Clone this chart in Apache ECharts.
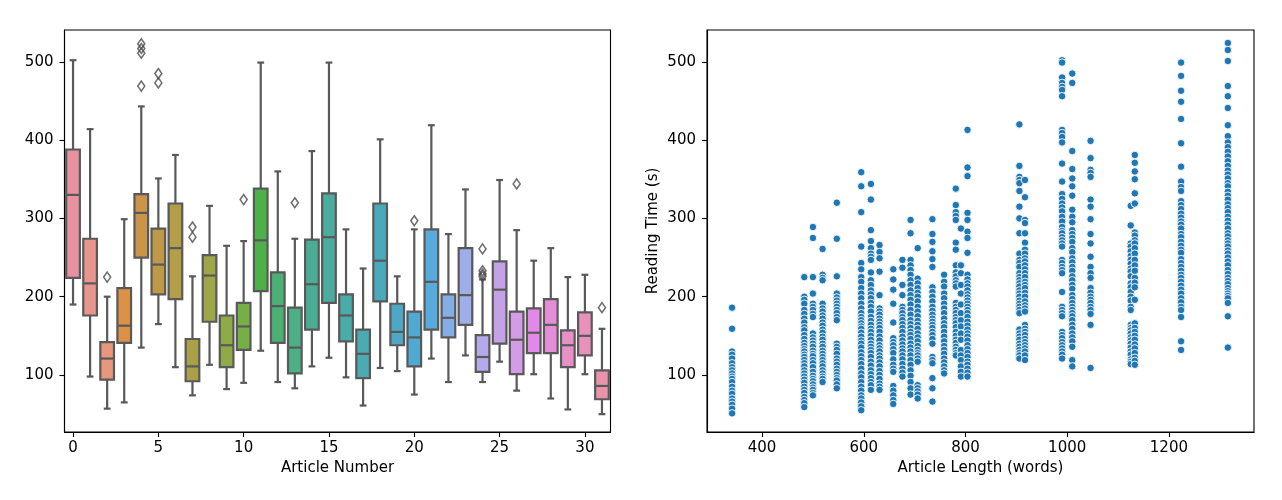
<!DOCTYPE html>
<html>
<head>
<meta charset="utf-8">
<script src="https://cdn.jsdelivr.net/npm/echarts@6/dist/echarts.min.js"></script>
<style>
html,body{margin:0;padding:0;background:#fff;}
#chart{width:1282px;height:500px;}
</style>
</head>
<body>
<div id="chart"></div>
<script>
// ---- Left: box plot per article ----
const articles = [0,1,2,3,4,5,6,7,8,9,10,11,12,13,14,15,16,17,18,19,20,21,22,23,24,25,26,27,28,29,30,31];
const boxMin    = [190, 98, 57, 65,135,165,110, 74,113, 82, 90,131, 91, 83,111,122, 97, 61,109,105, 75,121, 91,125, 91,117, 80,101, 70, 56,101, 50];
const boxQ1     = [224,176, 94,141,250,203,197, 92,168,110,132,207,141,102,158,192,143, 96,194,138,111,158,148,164,104,140,101,128,128,110,125, 69];
const boxMedian = [330,217,121,163,307,241,262,111,227,138,162,272,188,135,216,276,176,127,246,155,148,219,173,202,123,209,145,154,164,138,150, 86];
const boxQ3     = [388,274,142,211,331,287,319,146,253,176,192,338,231,186,273,332,203,158,319,191,181,286,203,262,151,245,181,185,197,157,180,106];
const boxMax    = [502,414,200,299,443,351,381,226,316,265,271,499,360,274,386,499,286,236,401,226,286,419,280,337,222,349,285,246,262,225,228,159];
const boxColors = ['#e8929f','#e8958e','#e8977c','#dd9147','#cb9448','#c09948','#b49e47','#a8a147','#9da748','#8fab48',
                   '#77af47','#4eb048','#4cb074','#4caf86','#4aae95','#4aada0','#4aaca9','#4babb2','#4aa9bb','#4ca8c6',
                   '#4fa9d2','#57abdf','#85aee8','#9eaee9','#b4a9ea','#c5a2e8','#d39ce6','#e288e6','#e68dd7','#e790c8',
                   '#e891bb','#e893ab'];
const outlierArticle = [2, 4, 4, 4, 4, 5, 5, 7, 7, 10, 13, 20, 24, 24, 24, 24, 26, 31];
const outlierValue   = [225,523,517,511,469,485,473,289,276,324,320,297,261,233,229,226,344,186];

// ---- Right: reading time vs article length ----
const articleLengths = [341, 483, 500, 519, 547, 595, 614, 631, 658, 676, 692, 706, 735, 758, 781, 791, 804, 906, 917, 990, 1010, 1046, 1125, 1133, 1224, 1316];
const readingTimes = [
  [186,159,130,126,121,115,110,106,102,98,95,91,85,80,76,70,66,62,57,51],
  [225,200,196,191,183,178,172,167,161,157,151,146,141,137,133,130,126,123,119,115,111,106,102,98,94,90,85,81,77,72,68,64,59],
  [289,275,225,204,191,187,183,178,174,153,148,144,140,136,131,127,124,119,115,110,104,99,95,92,88,84,81,77,74],
  [261,228,224,221,191,185,181,176,172,167,163,158,154,149,145,140,136,131,127,123,119,115,111,106,102,98,95,91],
  [320,274,226,204,199,195,191,187,183,179,174,170,140,136,132,127,121,117,113,108,104,100,96,93,88,83],
  [359,341,308,264,243,235,225,219,211,204,198,191,185,179,174,170,166,162,159,154,149,144,140,135,129,124,119,114,108,102,97,91,85,80,74,70,65,60,55],
  [344,324,285,271,262,255,251,247,231,221,215,208,203,198,192,187,181,174,169,164,159,155,150,145,140,136,132,128,123,117,112,106,101,96,91,87,81],
  [266,257,249,232,202,185,181,177,172,168,164,160,155,149,144,138,134,130,125,121,116,111,105,100,95,89,85,81],
  [235,222,209,191,167,147,142,138,133,128,120,113,108,104,86,80,74,68,63],
  [247,237,215,202,187,183,179,174,170,165,160,155,149,144,139,134,130,125,120,114,108,103,98],
  [298,281,247,240,234,228,221,215,208,202,196,190,183,177,170,165,160,155,151,146,140,135,130,125,119,113,106,99,91,83,75],
  [262,223,217,211,205,200,194,187,181,175,169,164,159,153,148,143,137,132,128,125,121,117,87,83,79,75,70],
  [299,280,270,258,248,238,212,206,200,194,187,182,177,172,168,164,160,155,151,146,140,123,119,115,96,83,66],
  [228,219,213,204,198,191,185,179,172,166,161,155,149,143,137,132,127,121,116,111,106,102],
  [338,317,308,303,298,269,260,240,231,226,221,217,213,192,187,183,179,174,170,166,161,155,150,145,141,136,132,128,125],
  [287,240,230,215,204,190,179,170,162,153,145,132,125,119,111,104,98],
  [413,365,354,307,298,283,275,256,228,222,217,213,208,203,199,195,191,187,183,179,174,168,163,158,153,149,144,138,133,128,123,117,113,108,103,98],
  [420,367,353,349,345,335,315,300,281,255,247,243,238,230,225,221,217,213,208,204,200,195,191,187,183,179,158,153,149,145,140,136,132,128,125,121],
  [349,327,298,294,281,269,260,255,249,245,240,235,230,225,219,215,211,205,200,194,189,185,181,164,159,155,151,146,142,138,134,130,125,119],
  [502,499,480,473,468,464,456,413,409,404,397,370,347,331,325,319,314,309,302,296,289,284,281,276,272,268,264,247,243,238,234,230,206,187,183,179,175,155,151,147,142,138,134,130,126,121],
  [485,473,386,363,351,341,329,311,302,295,285,280,275,270,262,257,249,244,238,233,226,221,215,210,202,197,192,187,183,179,175,170,164,159,153,148,143,136,119,111],
  [399,377,362,358,353,324,315,299,280,268,251,238,230,224,211,205,200,196,192,187,183,178,164,109],
  [316,291,268,264,258,252,247,242,236,232,226,217,212,206,200,195,187,183,164,160,157,153,148,144,140,135,130,126,120,117,114],
  [381,371,360,350,332,319,282,278,272,268,262,255,247,240,233,224,218,212,196,166,160,155,150,145,139,134,128,122,118,113],
  [499,482,463,449,427,396,366,347,340,335,322,317,312,306,301,296,292,287,280,276,270,265,260,256,248,243,238,233,228,224,219,214,209,204,198,193,187,183,174,143,132],
  [524,515,501,469,456,441,419,405,397,391,385,379,373,367,361,356,351,345,341,334,329,324,318,313,308,302,297,292,287,281,277,272,268,264,259,255,250,245,240,234,229,224,220,216,211,207,204,201,198,192,175,135]
];
const leftTicks  = [100, 200, 300, 400, 500];
const xTicksLeft = [0, 5, 10, 15, 20, 25, 30];
const xTicksRight = [400, 600, 800, 1000, 1200];

const boxData = articles.map((a, i) => [a, boxMin[i], boxQ1[i], boxMedian[i], boxQ3[i], boxMax[i]]);
const outlierData = outlierArticle.map((a, i) => [a, outlierValue[i]]);
const scatterData = [];
articleLengths.forEach((len, i) => readingTimes[i].forEach(t => scatterData.push([len, t])));

const FONT = 'DejaVu Sans';
const FS = 15;
const LINE = '#595959';
const plain = v => String(v);

function axisBase(ticks, margin) {
  return {
    axisLine: { show: true, onZero: false, lineStyle: { color: '#000', width: 1.1 } },
    axisTick: { show: true, inside: false, length: 5, lineStyle: { color: '#000', width: 1.1 }, customValues: ticks },
    axisLabel: { color: '#000', fontFamily: FONT, fontSize: FS, margin: margin, customValues: ticks, formatter: plain },
    splitLine: { show: false },
    nameTextStyle: { color: '#000', fontFamily: FONT, fontSize: FS }
  };
}

const chart = echarts.init(document.getElementById('chart'), null, { renderer: 'canvas' });

function renderBox(params, api) {
  const x = api.value(0);
  const pMin = api.coord([x, api.value(1)]);
  const pQ1 = api.coord([x, api.value(2)]);
  const pMed = api.coord([x, api.value(3)]);
  const pQ3 = api.coord([x, api.value(4)]);
  const pMax = api.coord([x, api.value(5)]);
  const unit = api.size([1, 0])[0];
  const bw = unit * 0.8;
  const cw = bw * 0.5;
  const cx = pMin[0];
  const ls = { stroke: LINE, lineWidth: 2.2 };
  return {
    type: 'group',
    children: [
      { type: 'line', shape: { x1: cx, y1: pQ1[1], x2: cx, y2: pMin[1] }, style: ls },
      { type: 'line', shape: { x1: cx, y1: pQ3[1], x2: cx, y2: pMax[1] }, style: ls },
      { type: 'line', shape: { x1: cx - cw / 2, y1: pMin[1], x2: cx + cw / 2, y2: pMin[1] }, style: ls },
      { type: 'line', shape: { x1: cx - cw / 2, y1: pMax[1], x2: cx + cw / 2, y2: pMax[1] }, style: ls },
      { type: 'rect', shape: { x: cx - bw / 2, y: pQ3[1], width: bw, height: pQ1[1] - pQ3[1] },
        style: { fill: boxColors[params.dataIndex], stroke: LINE, lineWidth: 2.2 } },
      { type: 'line', shape: { x1: cx - bw / 2, y1: pMed[1], x2: cx + bw / 2, y2: pMed[1] }, style: ls }
    ]
  };
}

const yMin = 27.2, yMax = 540.6;

const option = {
  animation: false,
  backgroundColor: '#fff',
  textStyle: { fontFamily: FONT },
  grid: [
    { left: 64.5, top: 30, width: 546, height: 402, show: true, borderColor: '#000', borderWidth: 1.1, backgroundColor: 'transparent' },
    { left: 707, top: 30, width: 547, height: 402, show: true, borderColor: '#000', borderWidth: 1.1, backgroundColor: 'transparent' }
  ],
  xAxis: [
    Object.assign(axisBase(xTicksLeft, 9), {
      type: 'value', gridIndex: 0, min: -0.5, max: 31.5,
      name: 'Article Number', nameLocation: 'middle', nameGap: 29
    }),
    Object.assign(axisBase(xTicksRight, 9), {
      type: 'value', gridIndex: 1, min: 291.7, max: 1367.4,
      name: 'Article Length (words)', nameLocation: 'middle', nameGap: 29
    })
  ],
  yAxis: [
    Object.assign(axisBase(leftTicks, 11), {
      type: 'value', gridIndex: 0, min: yMin, max: yMax
    }),
    Object.assign(axisBase(leftTicks, 11), {
      type: 'value', gridIndex: 1, min: yMin, max: yMax,
      name: 'Reading Time (s)', nameLocation: 'middle', nameGap: 46
    })
  ],
  series: [
    {
      type: 'custom', xAxisIndex: 0, yAxisIndex: 0,
      renderItem: renderBox,
      encode: { x: 0, y: [1, 2, 3, 4, 5] },
      data: boxData, clip: true
    },
    {
      type: 'scatter', xAxisIndex: 0, yAxisIndex: 0,
      symbol: 'path://M0,-10L6,0L0,10L-6,0Z', symbolSize: [7, 10],
      itemStyle: { color: 'rgba(255,255,255,0)', borderColor: '#4a4a4a', borderWidth: 1.6 },
      data: outlierData, z: 3
    },
    {
      type: 'scatter', xAxisIndex: 1, yAxisIndex: 1,
      symbol: 'circle', symbolSize: 7.5,
      itemStyle: { color: '#1f77b4', borderColor: '#ffffff', borderWidth: 0.9, opacity: 1 },
      data: scatterData
    }
  ]
};
chart.setOption(option);
</script>
</body>
</html>
